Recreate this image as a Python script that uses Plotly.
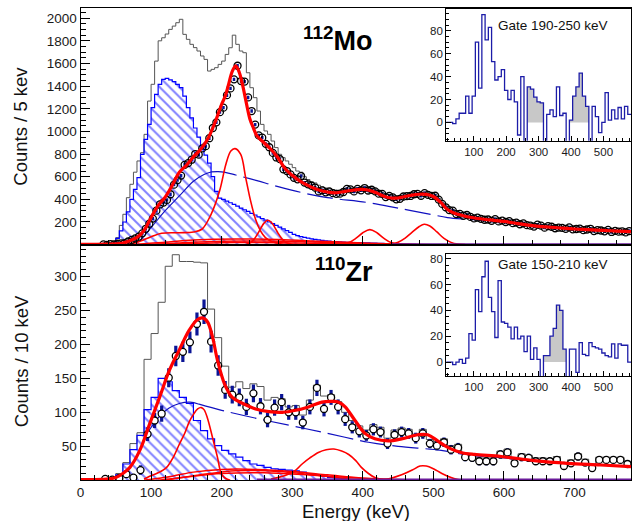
import plotly.graph_objects as go

W, H = 632, 521
FONT = "Liberation Sans"

# ---------------- 112Mo main panel (5 keV bins) ----------------
MO_BIN0, MO_BW = 0, 5
MO_GRAY = [0, 0, 0, 0, 0, 0, 2, 5, 10, 30,
           62, 170, 268, 415, 533, 640, 739, 812, 974, 1268,
           1416, 1621, 1800, 1827, 1860, 1901, 1930, 1960, 1990, 1857,
           1813, 1769, 1740, 1710, 1666, 1636, 1533, 1548, 1563, 1592,
           1621, 1680, 1739, 1850, 1769, 1710, 1695, 1518, 1386, 1298,
           1180, 1062, 1004, 974, 915, 857, 798, 768, 739, 710,
           680, 650, 640, 600, 575, 555, 545, 525, 510, 500,
           495, 485, 480, 478, 485, 500, 500, 495, 505, 500,
           512, 495, 500, 485, 470, 462, 440, 445, 432, 418,
           420, 438, 440, 445, 458, 460, 448, 465, 455, 445,
           445, 410, 375, 342, 318, 312, 282, 282, 266, 272,
           255, 243, 248, 238, 230, 232, 220, 234, 215, 222,
           210, 217, 200, 204, 190, 197, 181, 177, 169, 184,
           176, 158, 171, 166, 153, 158, 155, 148, 159, 142,
           145, 149, 135, 141, 146, 127, 135, 131, 125, 136,
           119, 128, 121, 124, 114, 126]
MO_HATCH = [0, 0, 0, 0, 0, 0, 0, 0, 0, 5,
            55, 121, 200, 290, 400, 489, 592, 798, 930, 1062,
            1210, 1327, 1416, 1460, 1468, 1455, 1440, 1415, 1386, 1312,
            1210, 1120, 1030, 950, 870, 790, 720, 600, 470, 410,
            400, 385, 370, 355, 340, 323, 308, 293, 277, 262,
            246, 231, 216, 200, 185, 170, 154, 139, 123, 108,
            90, 80, 72, 65, 58, 52, 47, 42, 38, 34,
            31, 28, 26, 24, 22, 21, 20, 19, 18, 17,
            16, 15, 14, 13, 12, 11, 10, 9, 8, 7,
            6, 5, 4, 3, 2, 1, 0, 0, 0, 0]
MO_DATA0 = 30
MO_DATA = [2, -3, 4, 2, 8, 12, 14, 28, 42, 55,
           70, 100, 140, 185, 230, 300, 355, 372, 395, 445,
           530, 570, 610, 705, 720, 750, 800, 795, 850, 870,
           940, 1030, 1080, 1170, 1210, 1320, 1380, 1460, 1580, 1445,
           1440, 1300, 1180, 1060, 965, 945, 890, 860, 810, 770,
           755, 665, 650, 620, 590, 577, 606, 548, 533, 520,
           503, 470, 480, 462, 470, 455, 448, 450, 465, 492,
           488, 470, 492, 480, 500, 478, 485, 470, 450, 448,
           420, 430, 418, 400, 405, 425, 428, 430, 445, 448,
           432, 455, 440, 430, 432, 398, 360, 330, 305, 300,
           270, 272, 255, 262, 245, 232, 238, 228, 220, 222,
           210, 225, 205, 212, 200, 208, 190, 195, 180, 188,
           172, 168, 160, 176, 168, 150, 163, 158, 145, 150,
           148, 140, 152, 135, 138, 142, 128, 134, 140, 120,
           128, 125, 118, 130, 112, 122, 115, 118, 108, 120]
MO_ERR = 15

MO_FIT_E = [0, 20, 40, 50, 60, 70, 80, 90, 100, 110, 120, 130, 140, 150, 160, 170, 180, 190, 200,
            205, 210, 215, 220, 225, 230, 235, 240, 245, 250, 260, 270, 280, 290, 300, 310, 320,
            330, 340, 350, 360, 370, 380, 390, 400, 410, 420, 430, 440, 450, 460, 470, 480, 490,
            500, 510, 520, 530, 540, 550, 560, 580, 600, 620, 640, 660, 680, 700, 720, 740, 760, 780]
MO_FIT = [3, 3, 4, 6, 15, 35, 64, 125, 240, 345, 420, 525, 640, 700, 775, 840, 930, 1070, 1240,
          1310, 1420, 1530, 1580, 1520, 1400, 1250, 1110, 1030, 960, 900, 840, 765, 670, 612, 565, 530,
          500, 478, 465, 458, 465, 476, 484, 488, 478, 455, 428, 412, 412, 425, 438, 445, 444,
          425, 375, 310, 278, 260, 244, 233, 218, 205, 186, 168, 157, 147, 138, 132, 126, 120, 115]

MO_BG_RISE_E = [85, 100, 120, 140, 160, 175, 185]
MO_BG_RISE = [40, 150, 300, 430, 560, 620, 642]
MO_BG_E = [185, 195, 205, 220, 250, 280, 314, 350, 408, 450, 497, 520, 549, 600, 650, 700, 780]
MO_BG = [642, 645, 638, 615, 565, 512, 459, 415, 371, 322, 266, 239, 224, 203, 160, 136, 113]

MO_P220_E = [60, 80, 100, 115, 140, 160, 172, 185, 197, 206, 213, 219, 227, 234, 241, 248, 255, 262, 272, 285, 300]
MO_P220 = [0, 20, 70, 100, 105, 112, 136, 268, 474, 710, 827, 848, 797, 592, 386, 224, 121, 62, 25, 5, 0]
MO_P267_E = [235, 240, 245, 250, 255, 260, 265, 270, 275, 280, 285, 290, 295, 300, 305]
MO_P267 = [4, 15, 40, 85, 140, 190, 215, 200, 155, 100, 55, 25, 9, 3, 0]
MO_P410_E = [360, 370, 380, 390, 400, 410, 420, 430, 440, 450, 460, 470]
MO_P410 = [0, 4, 18, 55, 105, 133, 105, 55, 18, 4, 1, 0]
MO_P487_E = [430, 440, 450, 460, 470, 480, 487, 495, 505, 515, 525, 535, 545]
MO_P487 = [1, 6, 22, 58, 110, 160, 180, 165, 112, 55, 20, 5, 0]
MO_L1_E = [60, 90, 120, 160, 220, 280, 340, 400, 450, 500]
MO_L1 = [0, 8, 22, 40, 50, 45, 30, 15, 5, 0]
MO_L2_E = [80, 110, 140, 200, 260, 320, 380, 440, 480]
MO_L2 = [0, 6, 15, 30, 32, 25, 12, 3, 0]
MO_L3_E = [90, 130, 160, 220, 300, 380, 440]
MO_L3 = [0, 5, 10, 18, 15, 6, 0]
MO_BASE_E = [440, 780]
MO_BASE = [4, 4]

# ---------------- 110Zr main panel (10 keV bins) ----------------
ZR_BIN0, ZR_BW = 0, 10
ZR_GRAY = [0, 0, 0, 2, 3, 10, 26, 54, 70, 178,
           216, 262, 315, 332, 322, 322, 321, 320, 252, 210,
           168, 137, 145, 135, 142, 138, 118, 122, 120, 108,
           110, 96, 118, 140, 124, 126, 116, 100, 88, 80,
           74, 82, 78, 62, 74, 77, 75, 68, 75, 60,
           57, 61, 51, 53, 40, 38, 33, 33, 33, 43,
           46, 30, 39, 37, 33, 33, 32, 35, 26, 30,
           39, 31, 23, 34, 34, 34, 34, 28]
ZR_HATCH = [0, 0, 0, 0, 0, 8, 24, 45, 66, 104,
            122, 150, 145, 132, 122, 113, 88, 73, 61, 51,
            44, 39, 34, 29, 24, 22, 19, 17, 16, 15,
            14, 12, 10, 8, 6, 4, 3, 2, 1, 0]
ZR_DATA0 = 30
ZR_DATA = [2, 1, 3, 9, 4, 15, 68, 88, 98, 151,
           183, 189, 203, 230, 248, 204, 169, 133, 126, 122,
           108, 128, 109, 89, 107, 115, 100, 100, 85, 108,
           136, 105, 122, 108, 90, 78, 72, 66, 75, 71,
           54, 67, 71, 69, 62, 69, 54, 51, 56, 45,
           48, 34, 33, 28, 28, 28, 38, 41, 25, 34,
           33, 28, 28, 28, 30, 21, 25, 35, 26, 18,
           30, 30, 30, 30, 24]
ZR_ERR = [3, 3, 4, 5, 5, 7, 10, 11, 12, 14,
          15, 15, 16, 17, 18, 16, 15, 13, 13, 13,
          12, 13, 12, 11, 12, 12, 11, 11, 10, 11,
          12, 11, 11, 11, 10, 9, 9, 8, 9, 8,
          8, 8, 8, 8, 8, 8, 7, 7, 7, 7,
          7, 6, 6, 6, 6, 6, 6, 6, 5, 6,
          6, 5, 5, 5, 5, 5, 5, 6, 5, 5,
          5, 5, 5, 5, 5]

ZR_FIT_E = [0, 20, 40, 50, 60, 70, 84, 98, 112, 126, 140, 154, 165, 173, 180, 187, 194, 204, 215, 230,
            248, 267, 286, 305, 323, 342, 356, 366, 375, 389, 403, 417, 436, 455, 478, 492, 506, 521,
            539, 558, 596, 643, 690, 737, 780]
ZR_FIT = [1, 1, 2, 4, 10, 19, 44, 83, 122, 162, 192, 221, 236, 239, 233, 211, 177, 142, 122, 113,
          105, 101, 100, 103, 108, 115, 116, 115, 108, 88, 69, 61, 58, 61, 67, 67, 58, 48,
          41, 38, 35, 29, 25, 22.5, 20]
ZR_BG_RISE_E = [95, 110, 125, 140, 155, 168]
ZR_BG_RISE = [70, 92, 106, 113, 115, 112]
ZR_BG_E = [168, 200, 250, 300, 342, 408, 450, 511, 549, 600, 643, 700, 780]
ZR_BG = [112, 103, 91, 80, 71, 56, 50, 44, 37, 33, 28, 25, 20]
ZR_P172_E = [90, 98, 110, 122, 131, 140, 148, 154, 160, 166, 171, 175, 180, 187, 194, 199, 204, 212]
ZR_P172 = [2, 6, 11, 19, 33, 53, 70, 86, 97, 105, 107, 104, 91, 63, 34, 11, 4, 0]
ZR_P360_E = [270, 290, 305, 314, 325, 337, 348, 359, 370, 380, 390, 398, 408, 417, 427, 440]
ZR_P360 = [2, 7, 15, 24, 33, 41, 45, 46, 43, 38, 29, 19, 10, 4, 1, 0]
ZR_P488_E = [425, 440, 455, 470, 481, 490, 500, 512, 525, 535, 545]
ZR_P488 = [0, 3, 8, 15, 21, 21, 17, 10, 4, 1, 0]
ZR_L1_E = [90, 130, 160, 200, 250, 300, 350, 400, 450, 480]
ZR_L1 = [0, 6, 12, 16, 16, 13, 8, 3, 1, 0]
ZR_L2_E = [110, 150, 200, 260, 320, 380, 440, 470]
ZR_L2 = [0, 5, 10, 11, 8, 4, 1, 0]
ZR_L3_E = [120, 170, 220, 280, 330, 380, 420]
ZR_L3 = [0, 8, 14, 13, 8, 2, 0]
ZR_BASE_E = [250, 780]
ZR_BASE = [1, 1]

# ---------------- insets (10 keV bins from 15 keV) ----------------
IN_BIN0, IN_BW = 15, 10
MO_IN = [0, 0, -1, 3, 8, 8, 23, 8, 23, 70,
         30, 94, 72, 83, 53, 37, 40, 46, 28, 20,
         28, 18, -11, 40, -20, 31, 29, 22, 18, 17,
         -20, 7, 11, 5, 31, 6, 8, -20, 2, 23,
         31, 43, 23, 14, -20, 14, 5, -9, 0, 26,
         2, 11, 3, 13, 3, 14, 7]
MO_GATES = [(265, 315), (395, 455)]
ZR_IN = [0, 0, -2, 0, 2, -1, 3, 22, 17, 56,
         39, 66, 78, 50, 39, 19, 63, 31, 30, 27,
         18, 27, 18, 20, 8, 20, 2, 11, 2, -15,
         5, 5, 20, 26, 44, 40, 10, -15, 10, 10,
         -8, 15, 6, 5, 15, 12, 11, 10, 7, 5,
         4, 14, 3, 14, 13, 13, 0]
ZR_GATES = [(315, 385)]


def steps(start, width, vals):
    xs = [start + width * i for i in range(len(vals) + 1)]
    ys = list(vals) + [vals[-1]]
    return xs, ys


def px(x):
    return x / W


def py(y):
    return 1 - y / H


fig = go.Figure()
RED = "#ff0000"
BLUE = "#0000ff"


def add_main(xa, ya, bin0, bw, gray, hatch, data0, data, err, err_thick, data_fill,
             lows, bg_rise, bg, comps, fit, base):
    gx, gy = steps(bin0, bw, gray)
    fig.add_trace(go.Scatter(x=gx, y=gy, mode="lines", xaxis=xa, yaxis=ya,
                             line=dict(color="#555555", width=1, shape="hv")))
    hx, hy = steps(bin0, bw, hatch)
    fig.add_trace(go.Scatter(x=hx, y=hy, mode="lines", xaxis=xa, yaxis=ya,
                             line=dict(color=BLUE, width=1.2, shape="hv"),
                             fill="tozeroy", fillcolor="rgba(0,0,0,0)",
                             fillpattern=dict(shape="\\", fgcolor=BLUE, bgcolor="rgba(0,0,0,0)",
                                              size=7, solidity=0.28)))
    for (ex, ev) in lows:
        fig.add_trace(go.Scatter(x=ex, y=ev, mode="lines", xaxis=xa, yaxis=ya,
                                 line=dict(color=RED, width=1.5, shape="spline")))
    fig.add_trace(go.Scatter(x=bg_rise[0], y=bg_rise[1], mode="lines", xaxis=xa, yaxis=ya,
                             line=dict(color="#1010c0", width=1.1, shape="spline")))
    fig.add_trace(go.Scatter(x=bg[0], y=bg[1], mode="lines", xaxis=xa, yaxis=ya,
                             line=dict(color="#1010c0", width=1.2, shape="spline", dash="26px,7px")))
    for (ex, ev) in comps:
        fig.add_trace(go.Scatter(x=ex, y=ev, mode="lines", xaxis=xa, yaxis=ya,
                                 line=dict(color=RED, width=1.6, shape="spline")))
    fig.add_trace(go.Scatter(x=base[0], y=base[1], mode="lines", xaxis=xa, yaxis=ya,
                             line=dict(color="#6a1b9a", width=2)))
    dx = [data0 + bw * (i + 0.5) for i in range(len(data))]
    if isinstance(err, list):
        ey = dict(type="data", array=err, visible=True, thickness=err_thick, width=0, color="#0a1496")
    else:
        ey = dict(type="constant", value=err, visible=True, thickness=err_thick, width=0, color="#0a1496")
    if data_fill:
        mk = dict(symbol="circle", size=7, color="white", line=dict(color="black", width=1.3))
    else:
        mk = dict(symbol="circle-open", size=7, color="black", line=dict(color="black", width=1.3))
    fig.add_trace(go.Scatter(x=dx, y=data, mode="markers", xaxis=xa, yaxis=ya,
                             marker=mk, error_y=ey))
    fig.add_trace(go.Scatter(x=fit[0], y=fit[1], mode="lines", xaxis=xa, yaxis=ya,
                             line=dict(color=RED, width=3.2, shape="spline")))


add_main("x", "y", MO_BIN0, MO_BW, MO_GRAY, MO_HATCH, MO_DATA0, MO_DATA, MO_ERR, 2.5, False,
         [(MO_L1_E, MO_L1), (MO_L2_E, MO_L2), (MO_L3_E, MO_L3)],
         (MO_BG_RISE_E, MO_BG_RISE), (MO_BG_E, MO_BG),
         [(MO_P220_E, MO_P220), (MO_P267_E, MO_P267), (MO_P410_E, MO_P410), (MO_P487_E, MO_P487)],
         (MO_FIT_E, MO_FIT), (MO_BASE_E, MO_BASE))

add_main("x2", "y2", ZR_BIN0, ZR_BW, ZR_GRAY, ZR_HATCH, ZR_DATA0, ZR_DATA, ZR_ERR, 3.2, True,
         [(ZR_L1_E, ZR_L1), (ZR_L2_E, ZR_L2), (ZR_L3_E, ZR_L3)],
         (ZR_BG_RISE_E, ZR_BG_RISE), (ZR_BG_E, ZR_BG),
         [(ZR_P172_E, ZR_P172), (ZR_P360_E, ZR_P360), (ZR_P488_E, ZR_P488)],
         (ZR_FIT_E, ZR_FIT), (ZR_BASE_E, ZR_BASE))


def add_inset(xa, ya, vals, gates):
    for (g0, g1) in gates:
        i0 = int((g0 - IN_BIN0) / IN_BW)
        i1 = int((g1 - IN_BIN0) / IN_BW)
        gx, gy = steps(g0, IN_BW, vals[i0:i1])
        fig.add_trace(go.Scatter(x=gx, y=gy, mode="lines", xaxis=xa, yaxis=ya,
                                 line=dict(width=0, shape="hv"), fill="tozeroy",
                                 fillcolor="#c8c8c8"))
    sx, sy = steps(IN_BIN0, IN_BW, vals)
    fig.add_trace(go.Scatter(x=sx, y=sy, mode="lines", xaxis=xa, yaxis=ya,
                             line=dict(color="#1c1ca8", width=1.3, shape="hv")))


add_inset("x3", "y3", MO_IN, MO_GATES)
add_inset("x4", "y4", ZR_IN, ZR_GATES)

tickfont = dict(family=FONT, size=13.5, color="#1a1a1a")
insfont = dict(family=FONT, size=11.5, color="#1a1a1a")
XD = [px(77), px(631)]
common = dict(showline=True, linecolor="black", linewidth=1, mirror=True, showgrid=False,
              zeroline=False, ticks="inside", tickcolor="black", tickmode="linear", tick0=0)

fig.update_layout(
    width=W, height=H, autosize=False,
    margin=dict(l=0, r=0, t=0, b=0),
    paper_bgcolor="white", plot_bgcolor="white",
    showlegend=False,
    xaxis=dict(domain=XD, anchor="y", range=[0, 780], dtick=200, ticklen=9,
               showticklabels=False, minor=dict(dtick=40, ticklen=5, ticks="inside", tickcolor="black"),
               **common),
    yaxis=dict(domain=[py(244), py(7)], anchor="x", range=[1, 2090], dtick=200, ticklen=9,
               tickfont=tickfont, minor=dict(dtick=50, ticklen=5, ticks="inside", tickcolor="black"),
               **common),
    xaxis2=dict(domain=XD, anchor="y2", range=[0, 780], dtick=100, ticklen=9, tickfont=tickfont,
                minor=dict(dtick=20, ticklen=5, ticks="inside", tickcolor="black"), **common),
    yaxis2=dict(domain=[py(480), py(244)], anchor="x2", range=[0.3, 347], dtick=50, ticklen=9,
                tickfont=tickfont, minor=dict(dtick=10, ticklen=5, ticks="inside", tickcolor="black"),
                **common),
    xaxis3=dict(domain=[px(445), px(631)], anchor="y3", range=[15, 585], dtick=100, ticklen=5,
                tickfont=insfont, minor=dict(dtick=20, ticklen=3, ticks="inside", tickcolor="black"),
                **common),
    yaxis3=dict(domain=[py(140), py(8)], anchor="x3", range=[-16, 99], dtick=20, ticklen=5,
                tickfont=insfont, minor=dict(dtick=5, ticklen=3, ticks="inside", tickcolor="black"),
                **common),
    xaxis4=dict(domain=[px(445), px(631)], anchor="y4", range=[15, 585], dtick=100, ticklen=5,
                tickfont=insfont, minor=dict(dtick=20, ticklen=3, ticks="inside", tickcolor="black"),
                **common),
    yaxis4=dict(domain=[py(376), py(253)], anchor="x4", range=[-11, 84], dtick=20, ticklen=5,
                tickfont=insfont, minor=dict(dtick=5, ticklen=3, ticks="inside", tickcolor="black"),
                **common),
)

ann = [
    dict(text="Counts / 5 kev", x=px(17), y=py(125), textangle=-90, font=dict(family=FONT, size=18.5, color="#111")),
    dict(text="Counts / 10 keV", x=px(17), y=py(361), textangle=-90, font=dict(family=FONT, size=18.5, color="#111")),
    dict(text="Energy (keV)", x=px(354), y=py(511), font=dict(family=FONT, size=18.5, color="#111")),
    dict(text="<b><sup>112</sup>Mo</b>", x=px(299), y=py(38), xanchor="left",
         font=dict(family=FONT, size=27, color="black")),
    dict(text="<b><sup>110</sup>Zr</b>", x=px(311), y=py(270), xanchor="left",
         font=dict(family=FONT, size=27, color="black")),
    dict(text="Gate 190-250 keV", x=px(552), y=py(25), font=dict(family=FONT, size=13.5, color="#111")),
    dict(text="Gate 150-210 keV", x=px(552), y=py(264), font=dict(family=FONT, size=13.5, color="#111")),
]
for a in ann:
    a.setdefault("xanchor", "center")
    a.setdefault("yanchor", "middle")
    fig.add_annotation(xref="paper", yref="paper", showarrow=False, **a)

fig.write_html("out.html", config={"displayModeBar": False},
               post_script="document.body.style.margin='0px';document.body.style.overflow='hidden';")
